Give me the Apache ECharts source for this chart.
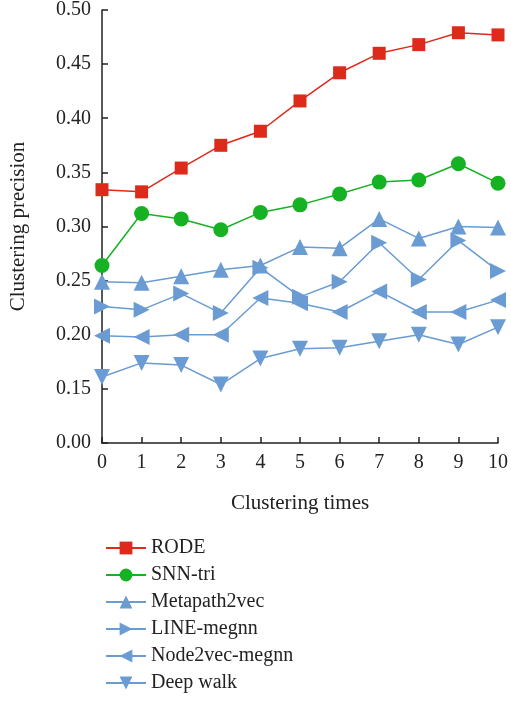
<!DOCTYPE html>
<html><head><meta charset="utf-8">
<script src="https://cdn.jsdelivr.net/npm/echarts@6/dist/echarts.min.js"></script>
<style>html,body{margin:0;padding:0;background:#fff}#c{width:511px;height:701px}</style>
</head><body><div id="c"></div>
<script>
const categories = ['0','1','2','3','4','5','6','7','8','9','10'];
const yTicks = ['0.00','0.15','0.20','0.25','0.30','0.35','0.40','0.45','0.50'];
const rode = [0.334,0.332,0.354,0.375,0.388,0.416,0.442,0.460,0.468,0.479,0.477];
const snnTri = [0.264,0.312,0.307,0.297,0.313,0.320,0.330,0.341,0.343,0.358,0.340];
const metapath2vec = [0.249,0.248,0.254,0.260,0.264,0.281,0.280,0.307,0.289,0.300,0.299];
const lineMegnn = [0.226,0.223,0.238,0.220,0.262,0.235,0.249,0.285,0.251,0.287,0.259];
const node2vecMegnn = [0.199,0.198,0.200,0.200,0.234,0.229,0.221,0.240,0.221,0.221,0.232];
const deepWalk = [0.161,0.174,0.172,0.154,0.178,0.187,0.188,0.194,0.200,0.191,0.207];

const font = 'Liberation Serif';
const blue = '#6a9bd3';
function s(name, data, color, symbol, size, rot){
  return {name, type:'line', data, symbol, symbolSize:size, symbolRotate:rot||0,
    itemStyle:{color}, lineStyle:{color, width:1.5}, showSymbol:true, z: 3};
}
const chart = echarts.init(document.getElementById('c'));
chart.setOption({
  animation:false,
  backgroundColor:'#fff',
  grid:{left:102, right:5, top:10, bottom:258, containLabel:false},
  xAxis:{type:'category', data:categories, boundaryGap:false,
    name:'Clustering times', nameLocation:'middle', nameGap:50,
    nameTextStyle:{fontFamily:font, fontSize:21, color:'#222'},
    axisLine:{lineStyle:{color:'#222', width:1.5}},
    axisTick:{inside:true, length:6, lineStyle:{color:'#222', width:1.5}},
    axisLabel:{fontFamily:font, fontSize:20, color:'#222', margin:10}},
  yAxis:{type:'value', min:0.10, max:0.50, interval:0.05,
    name:'Clustering precision', nameLocation:'middle', nameGap:73,
    nameTextStyle:{fontFamily:font, fontSize:21, color:'#222'},
    splitLine:{show:false},
    axisLine:{show:true, lineStyle:{color:'#222', width:1.5}},
    axisTick:{show:true, inside:true, length:6, lineStyle:{color:'#222', width:1.5}},
    axisLabel:{fontFamily:font, fontSize:20, color:'#222', margin:11,
      formatter:(v)=>{const i=Math.round((v-0.10)/0.05); return yTicks[i];}}},
  legend:{orient:'vertical', left:100, top:533, itemGap:7, itemWidth:40, itemHeight:16,
    textStyle:{fontFamily:font, fontSize:20, color:'#222'},
    data:['RODE','SNN-tri','Metapath2vec','LINE-megnn','Node2vec-megnn','Deep walk']},
  series:[
    s('RODE', rode, '#dd2a1b', 'rect', 13),
    s('SNN-tri', snnTri, '#17b124', 'circle', 15),
    s('Metapath2vec', metapath2vec, blue, 'triangle', 16, 0),
    s('LINE-megnn', lineMegnn, blue, 'triangle', 16, -90),
    s('Node2vec-megnn', node2vecMegnn, blue, 'triangle', 16, 90),
    s('Deep walk', deepWalk, blue, 'triangle', 16, 180)
  ]
});
</script></body></html>
